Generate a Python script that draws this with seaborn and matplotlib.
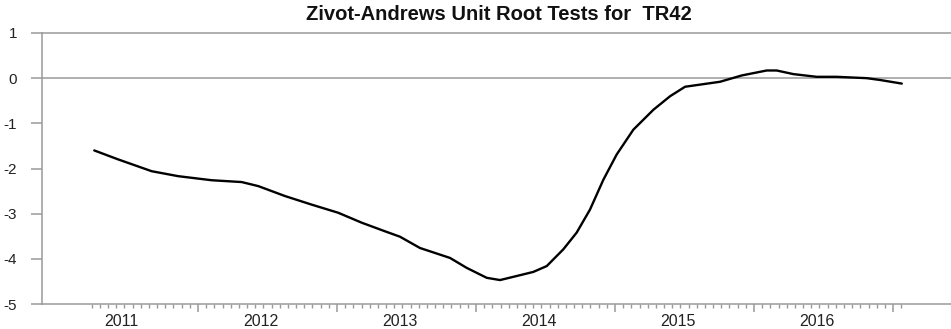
import numpy as np
import pandas as pd
import matplotlib
matplotlib.use("Agg")
import matplotlib.pyplot as plt
import seaborn as sns
from matplotlib.ticker import FixedLocator

# ---- data ----
dates = [2011.254, 2011.427, 2011.667, 2011.858, 2012.099, 2012.314, 2012.434,
         2012.626, 2012.818, 2013.009, 2013.178, 2013.345, 2013.453, 2013.597,
         2013.813, 2013.933, 2014.077, 2014.173, 2014.293, 2014.412, 2014.509,
         2014.628, 2014.724, 2014.820, 2014.916, 2015.012, 2015.132, 2015.276,
         2015.396, 2015.504, 2015.755, 2015.912, 2016.091, 2016.163, 2016.283,
         2016.451, 2016.595, 2016.811, 2016.906, 2017.063]
za_stat = [-1.60, -1.80, -2.06, -2.17, -2.26, -2.30, -2.39,
           -2.61, -2.80, -2.98, -3.20, -3.39, -3.51, -3.76,
           -3.98, -4.20, -4.42, -4.47, -4.38, -4.29, -4.16,
           -3.79, -3.42, -2.91, -2.25, -1.69, -1.14, -0.70,
           -0.40, -0.19, -0.08, 0.06, 0.17, 0.17, 0.09,
           0.03, 0.03, 0.00, -0.04, -0.12]
years = [2011, 2012, 2013, 2014, 2015, 2016]
year_labels = ["2011", "2012", "2013", "2014", "2015", "2016"]
y_ticks = [1, 0, -1, -2, -3, -4, -5]
title_text = "Zivot-Andrews Unit Root Tests for  TR42"

df = pd.DataFrame({"date": dates, "stat": za_stat})

sns.set_style("white")
plt.rcParams["font.family"] = ["Liberation Sans", "DejaVu Sans"]

GRAY = "#9a9a9a"
TXT = "#222222"

fig = plt.figure(figsize=(9.51, 3.29), dpi=100)
ax = fig.add_axes([42 / 951, 1 - 304 / 329, 1 - 42 / 951, (304 - 33) / 329])

sns.lineplot(data=df, x="date", y="stat", ax=ax, color="black", linewidth=1.7)

ax.axhline(0, color=GRAY, linewidth=1.1, zorder=1)

ax.set_xlim(2010.878, 2017.417)
ax.set_ylim(-5, 1)

# spines
for s in ["left", "top", "bottom"]:
    ax.spines[s].set_color(GRAY)
    ax.spines[s].set_linewidth(1.1)
ax.spines["right"].set_visible(False)

# y ticks
ax.set_yticks(y_ticks)
ax.set_yticklabels([str(v) for v in y_ticks])
ax.tick_params(axis="y", direction="out", length=8, width=1.1, color=GRAY,
               pad=10, labelsize=11, labelcolor=TXT, left=True)

# x ticks: year boundaries (major) and observation ticks (minor)
ax.xaxis.set_major_locator(FixedLocator([y + 1 for y in years]))
ax.xaxis.set_minor_locator(FixedLocator([2011 + k / 17 for k in range(4, 104)]))
ax.tick_params(axis="x", which="major", direction="out", length=6, width=1.1,
               color=GRAY, labelbottom=False, bottom=True)
ax.tick_params(axis="x", which="minor", direction="out", length=3, width=1.0,
               color=GRAY, bottom=True)

sec = ax.secondary_xaxis("bottom")
sec.set_xticks([y + 0.45 for y in years])
sec.set_xticklabels(year_labels)
sec.tick_params(axis="x", length=0, pad=7, labelsize=11.5, labelcolor=TXT)
sec.spines["bottom"].set_visible(False)

ax.set_xlabel("")
ax.set_ylabel("")

fig.text(499 / 951, 1 - 15 / 329, title_text, ha="center", va="center",
         fontsize=14.5, fontweight="bold", color="#111111")

fig.savefig("out.png", dpi=100)
